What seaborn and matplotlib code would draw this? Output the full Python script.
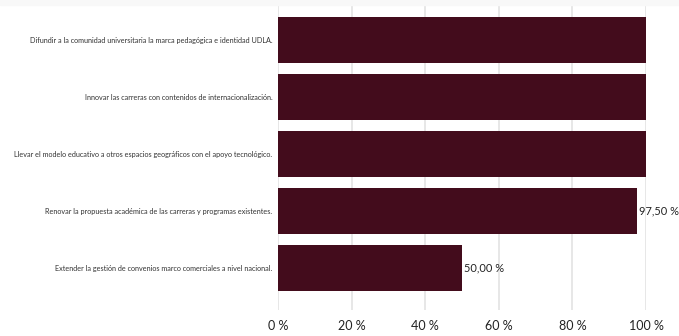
import matplotlib
matplotlib.use("Agg")
import matplotlib.pyplot as plt
import seaborn as sns
import pandas as pd
from matplotlib.ticker import FuncFormatter

categories = [
    "Difundir a la comunidad universitaria la marca pedagógica e identidad UDLA.",
    "Innovar las carreras con contenidos de internacionalización.",
    "Llevar el modelo educativo a otros espacios geográficos con el apoyo tecnológico.",
    "Renovar la propuesta académica de las carreras y programas existentes.",
    "Extender la gestión de convenios marco comerciales a nivel nacional.",
]
values = [100.0, 100.0, 100.0, 97.5, 50.0]
value_labels = [None, None, None, "97,50 %", "50,00 %"]

df = pd.DataFrame({"objetivo": categories, "pct": values})

sns.set_theme(style="white")
plt.rcParams["font.family"] = ["Lato", "DejaVu Sans"]

W, H = 679, 336
fig = plt.figure(figsize=(W / 100, H / 100), dpi=100)
fig.patches.append(plt.Rectangle((0, 1 - 5 / H), 1, 5 / H, transform=fig.transFigure,
                                 color="#f8f8f8", zorder=0))
ax = fig.add_axes([278 / W, 1 - 310 / H, (646 - 278) / W, (310 - 6) / H])

sns.barplot(data=df, x="pct", y="objetivo", orient="h", color="#430c1c",
            saturation=1, width=0.81, linewidth=0, ax=ax, zorder=3)

ax.set_xlim(0, 100)
ax.set_ylim(4.73, -0.59)
ax.set_xticks([0, 20, 40, 60, 80, 100])
ax.xaxis.set_major_formatter(FuncFormatter(lambda v, p: f"{int(v)} %"))
ax.grid(axis="x", color="#e3e3e3", linewidth=1.2, zorder=0)
ax.grid(axis="y", visible=False)
for s in ax.spines.values():
    s.set_visible(False)
ax.set_xlabel("")
ax.set_ylabel("")
ax.tick_params(axis="x", length=0, pad=7, labelsize=9, labelcolor="#222222")
ax.tick_params(axis="y", length=0, pad=4, labelsize=5.25, labelcolor="#333333")

for i, (v, lab) in enumerate(zip(values, value_labels)):
    if lab:
        ax.text(v + 0.6, i, lab, va="center", ha="left", fontsize=7.9, color="#222222")

fig.savefig("out.png", dpi=100)
